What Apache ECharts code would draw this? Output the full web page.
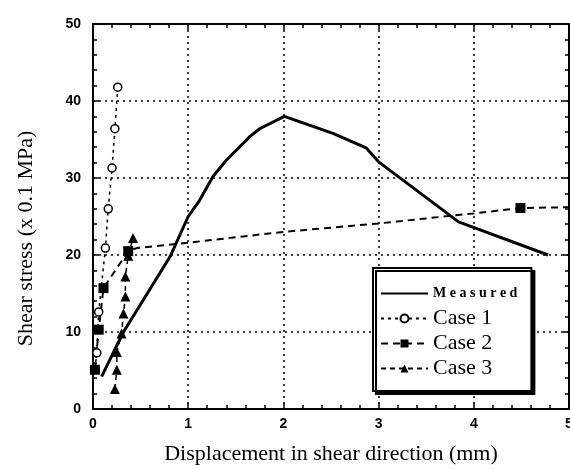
<!DOCTYPE html>
<html>
<head>
<meta charset="utf-8">
<script src="https://cdn.jsdelivr.net/npm/echarts@6/dist/echarts.min.js"></script>
<style>
  html, body { margin: 0; padding: 0; background: #fff; }
  #chart { width: 570px; height: 469px; }
</style>
</head>
<body>
<div id="chart"></div>
<script>
// values: [displacement mm, stress x0.1 MPa]
var measured = [
  [0.09, 4.2], [0.32, 10.0], [0.81, 19.8], [1.0, 25.0], [1.12, 27.1],
  [1.26, 30.2], [1.4, 32.3], [1.65, 35.4], [1.75, 36.4], [2.01, 38.0],
  [2.52, 35.8], [2.87, 33.9], [3.0, 32.1], [3.84, 24.3], [4.78, 20.0]
];
var case1 = [
  [0.02, 5.2], [0.04, 7.3], [0.06, 12.6], [0.13, 20.9], [0.16, 26.0],
  [0.2, 31.3], [0.23, 36.4], [0.26, 41.8]
];
var case2Marked = [
  [0.02, 5.1], [0.06, 10.3], [0.11, 15.7], [0.37, 20.5], [4.49, 26.1]
];
var case2Line = [
  [0.46, 20.9], [1.0, 21.6], [2.0, 23.0], [3.0, 24.1], [4.0, 25.4], [5.0, 26.2]
];
var case3 = [
  [0.23, 2.6], [0.25, 5.1], [0.25, 7.4], [0.3, 9.8], [0.32, 12.4],
  [0.34, 14.6], [0.34, 17.2], [0.37, 19.9], [0.42, 22.2]
];
var xTicks = [0, 1, 2, 3, 4, 5];
var yTicks = [0, 10, 20, 30, 40, 50];

// case 2 line: markers only on the marked points
var case2 = case2Marked.slice();
case2Line.forEach(function (p) {
  case2.push({ value: p, symbol: 'none' });
});
case2.sort(function (a, b) {
  var ax = Array.isArray(a) ? a[0] : a.value[0];
  var bx = Array.isArray(b) ? b[0] : b.value[0];
  return ax - bx;
});

var chart = echarts.init(document.getElementById('chart'));
var serif = '"Liberation Serif", "DejaVu Serif", serif';
var grid = { type: [2, 4], color: '#000', width: 1.5 };

var xBase = {
  type: 'value', min: 0, max: 5, interval: 1,
  axisLine: { show: true, onZero: false, lineStyle: { color: '#000', width: 2 } },
  axisTick: { show: true, inside: true, length: 6, lineStyle: { color: '#000', width: 1.5 } },
  minorTick: { show: true, splitNumber: 5, length: 4, lineStyle: { color: '#000', width: 1.5 } },
  splitLine: { show: false }
};
var yBase = {
  type: 'value', min: 0, max: 50, interval: 10,
  axisLine: { show: true, onZero: false, lineStyle: { color: '#000', width: 2 } },
  axisTick: { show: true, inside: true, length: 6, lineStyle: { color: '#000', width: 1.5 } },
  minorTick: { show: true, splitNumber: 5, length: 4, lineStyle: { color: '#000', width: 1.5 } },
  splitLine: { show: false }
};

chart.setOption({
  backgroundColor: '#fff',
  animation: false,
  grid: { left: 93, top: 24, right: 1, bottom: 60, outerBoundsMode: 'none', containLabel: false },
  legend: {
    orient: 'vertical',
    left: 373,
    top: 268,
    padding: [13, 14, 10, 7],
    itemGap: 0,
    itemWidth: 47,
    itemHeight: 10,
    backgroundColor: '#fff',
    borderColor: '#000',
    borderWidth: 2,
    borderRadius: 0,
    shadowColor: '#000',
    shadowBlur: 0,
    shadowOffsetX: 3,
    shadowOffsetY: 3,
    data: [
      { name: 'Measured', itemStyle: { opacity: 0 } },
      'Case 1', 'Case 2', 'Case 3'
    ],
    formatter: function (name) {
      if (name === 'Measured') return '{m|M e a s u r e d}';
      return '{c|' + name + '}';
    },
    textStyle: {
      color: '#000',
      rich: {
        m: { fontFamily: serif, fontWeight: 'bold', fontSize: 14, height: 25, lineHeight: 25, color: '#000' },
        c: { fontFamily: serif, fontSize: 22, height: 25, lineHeight: 25, color: '#000' }
      }
    }
  },
  xAxis: [
    Object.assign({}, xBase, {
      position: 'bottom',
      name: 'Displacement in shear direction (mm)',
      nameLocation: 'middle',
      nameGap: 34,
      nameTextStyle: { fontFamily: serif, fontSize: 22, color: '#000' },
      axisLabel: {
        margin: 8, color: '#000', fontSize: 14, fontWeight: 'bold',
        fontFamily: '"Liberation Sans", Arial, sans-serif',
        formatter: function (v) { return xTicks.indexOf(v) >= 0 ? String(v) : ''; }
      },
      splitLine: { show: true, lineStyle: grid }
    }),
    Object.assign({}, xBase, { position: 'top', axisLabel: { show: false } })
  ],
  yAxis: [
    Object.assign({}, yBase, {
      position: 'left',
      name: 'Shear stress (x 0.1 MPa)',
      nameLocation: 'middle',
      nameGap: 56,
      nameTextStyle: { fontFamily: serif, fontSize: 22, color: '#000', padding: [0, 44, 0, 0] },
      axisLabel: {
        margin: 12, color: '#000', fontSize: 14, fontWeight: 'bold',
        fontFamily: '"Liberation Sans", Arial, sans-serif',
        formatter: function (v) { return yTicks.indexOf(v) >= 0 ? String(v) : ''; }
      },
      splitLine: { show: true, lineStyle: grid }
    }),
    Object.assign({}, yBase, { position: 'right', axisLabel: { show: false } })
  ],
  series: [
    {
      name: 'Measured', type: 'line', data: measured,
      showSymbol: false, symbol: 'none',
      lineStyle: { color: '#000', width: 3, type: 'solid' },
      itemStyle: { color: '#000' }, z: 5
    },
    {
      name: 'Case 1', type: 'line', data: case1,
      symbol: 'circle', symbolSize: 8,
      lineStyle: { color: '#000', width: 1.5, type: [3, 4] },
      itemStyle: { color: '#fff', borderColor: '#000', borderWidth: 1.5 }, z: 4
    },
    {
      name: 'Case 2', type: 'line', data: case2,
      symbol: 'rect', symbolSize: 10,
      lineStyle: { color: '#000', width: 2, type: [7, 5] },
      itemStyle: { color: '#000' }, z: 4
    },
    {
      name: 'Case 3', type: 'line', data: case3,
      symbol: 'triangle', symbolSize: 10,
      lineStyle: { color: '#000', width: 1.5, type: [5, 4] },
      itemStyle: { color: '#000' }, z: 4
    }
  ]
});
</script>
</body>
</html>
